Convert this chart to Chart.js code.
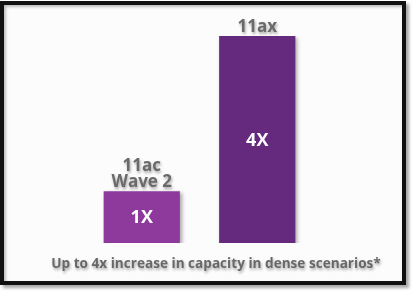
<!DOCTYPE html>
<html>
<head>
<meta charset="utf-8">
<script src="https://cdn.jsdelivr.net/npm/chart.js@4/dist/chart.umd.min.js"></script>
<style>
  html, body { margin: 0; padding: 0; background: #fff; }
  body { width: 416px; height: 291px; position: relative; overflow: hidden; }
  #frame {
    position: absolute; left: 0; top: 1px; width: 398px; height: 276px;
    border: 4px solid #111;
    background: #fcfcfc;
    box-shadow: 3px 3px 3px rgba(0,0,0,0.35), inset 2px 2px 3px rgba(0,0,0,0.25);
  }
  #wrap { position: absolute; left: 0; top: 0; width: 416px; height: 291px; }
</style>
</head>
<body>
<div id="frame"></div>
<div id="wrap"><canvas id="capacityChart"></canvas></div>
<script>
// chart data
const categories = [["11ac", "Wave 2"], ["11ax"]];
const capacity = [1, 4];
const valueLabels = ["1X", "4X"];
const barColors = ["rgb(141, 58, 156)", "rgb(101, 41, 125)"];
const caption = "Up to 4x increase in capacity in dense scenarios*";

// draws category names above bars, values inside and the caption
const labelPlugin = {
  id: "barLabels",
  beforeDatasetsDraw(chart) {
    const c = chart.ctx;
    c.save();
    c.shadowColor = "rgba(0,0,0,0.35)";
    c.shadowBlur = 4;
    c.shadowOffsetX = 2;
    c.shadowOffsetY = 2;
  },
  afterDatasetsDraw(chart) {
    const c = chart.ctx;
    c.restore();
    const meta = chart.getDatasetMeta(0);
    c.save();
    c.textAlign = "center";
    meta.data.forEach((bar, i) => {
      // value inside bar
      c.shadowColor = "transparent";
      c.fillStyle = "#fff";
      c.font = "bold 18px 'Open Sans'";
      c.textBaseline = "middle";
      c.fillText(valueLabels[i], bar.x, (bar.y + bar.base) / 2 + 1);

      // category above bar
      c.shadowColor = "rgba(0,0,0,0.35)";
      c.shadowBlur = 3;
      c.shadowOffsetX = 1;
      c.shadowOffsetY = 2;
      c.fillStyle = "#6a6a6a";
      c.font = "bold 17px 'Open Sans'";
      c.textBaseline = "alphabetic";
      const lines = categories[i];
      lines.forEach((t, j) => {
        c.fillText(t, bar.x, bar.y - 4 - (lines.length - 1 - j) * 16);
      });
    });
    c.font = "bold 13.6px 'Open Sans'";
    c.fillStyle = "#686868";
    c.fillText(caption, 216, 268);
    c.restore();
  },
};

const ctx = document.getElementById("capacityChart").getContext("2d");
new Chart(ctx, {
  type: "bar",
  data: {
    labels: categories,
    datasets: [
      {
        data: capacity,
        backgroundColor: barColors,
        borderWidth: 0,
        barPercentage: 0.66,
        categoryPercentage: 1,
      },
    ],
  },
  options: {
    responsive: true,
    maintainAspectRatio: false,
    animation: false,
    layout: {
      padding: { left: 84, right: 101, top: 36, bottom: 48 },
    },
    scales: {
      x: { display: false },
      y: { display: false, min: 0, max: 4 },
    },
    plugins: {
      legend: { display: false },
      tooltip: { enabled: false },
    },
  },
  plugins: [labelPlugin],
});
</script>
</body>
</html>
